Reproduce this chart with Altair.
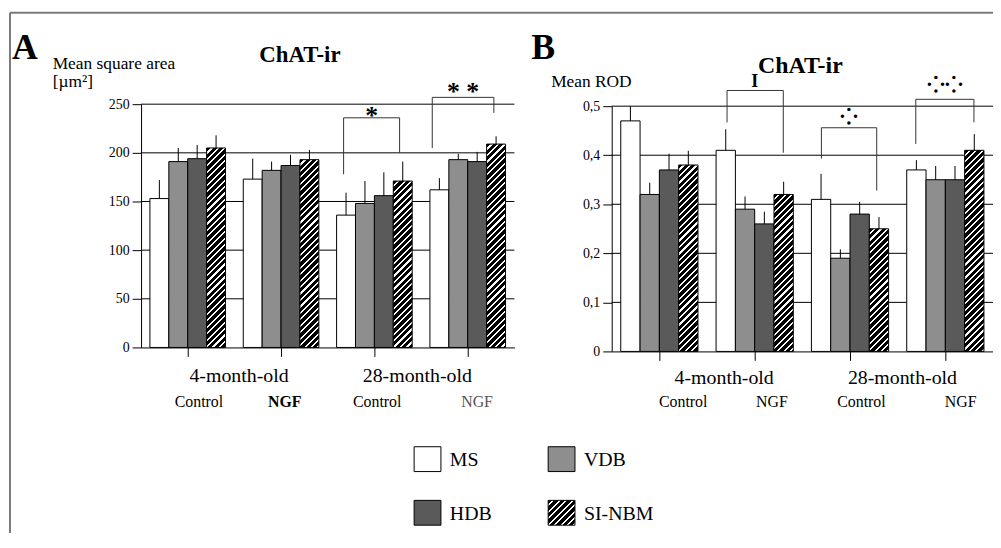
import altair as alt

# ---------------- data ----------------
groups = ["4-month-old Control", "4-month-old NGF", "28-month-old Control", "28-month-old NGF"]
series = ["MS", "VDB", "HDB", "SI-NBM"]

# Panel A : mean square area [µm²]
a_ms = [153, 173, 136, 162]
a_vdb = [191, 182, 148, 193]
a_hdb = [194, 187, 156, 191]
a_si = [205, 193, 171, 209]
a_ms_top = [172, 194, 159, 174]
a_vdb_top = [205, 191, 171, 199]
a_hdb_top = [208, 198, 180, 201]
a_si_top = [218, 203, 191, 217]

# Panel B : mean ROD
b_ms = [0.47, 0.41, 0.31, 0.37]
b_vdb = [0.32, 0.29, 0.19, 0.35]
b_hdb = [0.37, 0.26, 0.28, 0.35]
b_si = [0.38, 0.32, 0.25, 0.41]
b_ms_top = [0.500, 0.453, 0.362, 0.390]
b_vdb_top = [0.344, 0.316, 0.208, 0.378]
b_hdb_top = [0.403, 0.285, 0.305, 0.378]
b_si_top = [0.409, 0.346, 0.274, 0.443]

a_ticks = [0, 50, 100, 150, 200, 250]
b_ticks = [0, 0.1, 0.2, 0.3, 0.4, 0.5]

# significance brackets: left x, left foot, right x, right foot, top
a_brackets = [(2.17, 178, 2.77, 200, 236), (3.12, 205, 3.78, 241, 257)]
b_brackets = [(1.21, 0.467, 1.80, 0.405, 0.532),
              (2.20, 0.393, 2.78, 0.328, 0.456),
              (3.19, 0.423, 3.80, 0.467, 0.514)]
# symbol, x, y, font size
a_marks = [("*", 2.47, 238, 26), ("* *", 3.45, 262, 26)]
b_marks = [("I", 1.50, 0.550, 18), ("⁘", 2.49, 0.478, 22), ("⁘⁘", 3.50, 0.543, 22)]

ages = ["4-month-old", "28-month-old"]
conds = ["Control", "NGF", "Control", "NGF"]

# ---------------- layout / style ----------------
W, H = 992, 525
SERIF = "'Liberation Serif', 'Times New Roman', Tinos, 'DejaVu Serif', serif"
PAD, BW = 0.095, 0.2025
A_XR, A_YR, A_DOM = [134, 510], [340, 95], [0, 250]
B_XR, B_YR, B_DOM = [608, 992], [344, 97], [0, 0.5]
solid = {"MS": "#ffffff", "VDB": "#8e8e8e", "HDB": "#5a5a5a"}


def stripes(w, h, period=6.5, line=2.2):
    L = w + h
    k = L / (w * w + h * h)
    stops = []
    i = 0
    while i * period < L:
        a = i * period / L
        b = min((i * period + period - line) / L, 1)
        c = min((i + 1) * period / L, 1)
        stops += [{"offset": min(a, 1), "color": "black"}, {"offset": b, "color": "black"},
                  {"offset": b, "color": "white"}, {"offset": c, "color": "white"}]
        i += 1
    return {"gradient": "linear", "x1": 0, "y1": 0, "x2": k * w, "y2": k * h, "stops": stops}


def panel(vals, tops, dom, xr, yr, ticks, label_expr, brackets, marks,
          age_pos, cond_pos, cond_style, grid_vals):
    ux = (xr[1] - xr[0]) / 4.0
    uy = (yr[0] - yr[1]) / (dom[1] - dom[0])
    xs = alt.Scale(domain=[0, 4], range=xr, nice=False, zero=False)
    ys = alt.Scale(domain=dom, range=yr, nice=False, zero=False)
    xax = alt.Axis(orient="bottom", offset=yr[0] - H, values=[0.5, 1.5, 2.5, 3.5],
                   labels=False, tickSize=9, grid=False, title=None,
                   domainColor="black", tickColor="black")
    yax = alt.Axis(orient="left", offset=-xr[0], values=ticks, labelExpr=label_expr,
                   tickSize=9, grid=False, title=None, labelFont=SERIF, labelFontSize=14,
                   labelColor="black", labelPadding=3, domainColor="black", tickColor="black")
    X = lambda f: alt.X(f, scale=xs, axis=xax)
    Y = lambda f: alt.Y(f, scale=ys, axis=yax)

    grid = alt.Chart(alt.Data(values=[{"v": g, "a": 0, "b": 4} for g in grid_vals])).mark_rule(
        color="black", strokeWidth=1).encode(x=X("a:Q"), x2="b:Q", y=Y("v:Q"))

    bars, errs = [], []
    for k, s in enumerate(series):
        for g in range(4):
            x0 = g + PAD + k * BW
            v = vals[k][g]
            fill = stripes(BW * ux, v * uy) if s == "SI-NBM" else solid[s]
            bars.append({"x0": x0, "x1": x0 + BW, "v": v, "z": 0, "f": fill})
            errs.append({"xc": x0 + BW / 2, "v": v, "t": tops[k][g]})
    barl = alt.Chart(alt.Data(values=bars)).mark_rect(stroke="black", strokeWidth=1).encode(
        x=X("x0:Q"), x2="x1:Q", y=Y("v:Q"), y2="z:Q", fill=alt.Fill("f:N", scale=None))
    errl = alt.Chart(alt.Data(values=errs)).mark_rule(color="black", strokeWidth=1).encode(
        x=X("xc:Q"), y=Y("v:Q"), y2="t:Q")

    pts = []
    for i, (lx, lf, rx, rf, top) in enumerate(brackets):
        for o, (px, py) in enumerate([(lx, lf), (lx, top), (rx, top), (rx, rf)]):
            pts.append({"id": i, "o": o, "x": px, "y": py})
    brl = alt.Chart(alt.Data(values=pts)).mark_line(color="#333333", strokeWidth=1).encode(
        x=X("x:Q"), y=Y("y:Q"), detail="id:N", order="o:Q")

    sym = alt.Chart(alt.Data(values=[{"t": t, "x": x, "y": y, "s": s} for t, x, y, s in marks])).mark_text(
        font=SERIF, fontWeight="bold", baseline="middle").encode(
        x=X("x:Q"), y=Y("y:Q"), text="t:N", size=alt.Size("s:Q", scale=None))

    agel = alt.Chart(alt.Data(values=[{"t": t, "x": x, "y": age_pos[1]} for t, x in zip(ages, age_pos[0])])).mark_text(
        font=SERIF, fontSize=20, baseline="middle", color="black").encode(
        x=X("x:Q"), y=Y("y:Q"), text="t:N")
    crecs = [{"t": t, "x": x, "y": cond_pos[1], "c": c[0], "w": c[1]}
             for t, x, c in zip(conds, cond_pos[0], cond_style)]
    cl_reg = alt.Chart(alt.Data(values=[r for r in crecs if r["w"] == "normal"])).mark_text(
        font=SERIF, fontSize=16, baseline="middle").encode(
        x=X("x:Q"), y=Y("y:Q"), text="t:N", color=alt.Color("c:N", scale=None))
    layers = [grid, barl, errl, brl, sym, agel, cl_reg]
    bold = [r for r in crecs if r["w"] == "bold"]
    if bold:
        layers.append(alt.Chart(alt.Data(values=bold)).mark_text(
            font=SERIF, fontSize=16, fontWeight="bold", baseline="middle").encode(
            x=X("x:Q"), y=Y("y:Q"), text="t:N", color=alt.Color("c:N", scale=None)))
    return alt.layer(*layers)


panelA = panel([a_ms, a_vdb, a_hdb, a_si], [a_ms_top, a_vdb_top, a_hdb_top, a_si_top],
               A_DOM, A_XR, A_YR, a_ticks, "format(datum.value, 'd')", a_brackets, a_marks,
               ([1.05, 2.96], -29.6), ([0.62, 1.54, 2.53, 3.6], -56),
               [("black", "normal"), ("black", "bold"), ("black", "normal"), ("#555555", "normal")],
               [50, 100, 150, 200, 250])
panelB = panel([b_ms, b_vdb, b_hdb, b_si], [b_ms_top, b_vdb_top, b_hdb_top, b_si_top],
               B_DOM, B_XR, B_YR, b_ticks,
               "datum.value == 0 ? '0' : replace(format(datum.value, '.1f'), '.', ',')",
               b_brackets, b_marks,
               ([1.18, 3.05], -0.055), ([0.75, 1.68, 2.62, 3.66], -0.103),
               [("black", "normal")] * 4,
               [0.1, 0.2, 0.3, 0.4, 0.5])

# ---------------- annotations (pixel positions) ----------------
PX = lambda f: alt.X(f, scale=None, axis=None)
PY = lambda f: alt.Y(f, scale=None, axis=None)

letters = alt.Chart(alt.Data(values=[{"t": "A", "x": 4, "y": 49}, {"t": "B", "x": 527, "y": 50}])).mark_text(
    font=SERIF, fontSize=36, fontWeight="bold", align="left", baseline="alphabetic").encode(
    x=PX("x:Q"), y=PY("y:Q"), text="t:N")
titles = alt.Chart(alt.Data(values=[{"t": "ChAT-ir", "x": 294, "y": 53, "s": 23},
                                    {"t": "ChAT-ir", "x": 798, "y": 64, "s": 24}])).mark_text(
    font=SERIF, fontWeight="bold", align="center", baseline="alphabetic").encode(
    x=PX("x:Q"), y=PY("y:Q"), text="t:N", size=alt.Size("s:Q", scale=None))
ylabels = alt.Chart(alt.Data(values=[{"t": "Mean square area", "x": 45, "y": 60},
                                     {"t": "[µm²]", "x": 45, "y": 78},
                                     {"t": "Mean ROD", "x": 547, "y": 78}])).mark_text(
    font=SERIF, fontSize=17.5, align="left", baseline="alphabetic").encode(
    x=PX("x:Q"), y=PY("y:Q"), text="t:N")

legend_items = [("MS", 409, 440), ("VDB", 544, 440), ("HDB", 409, 494), ("SI-NBM", 544, 494)]
SW, SH = 27, 25
sw_recs = [{"x": x, "x2": x + SW, "y": y, "y2": y + SH,
            "f": stripes(SW, SH) if n == "SI-NBM" else solid[n]} for n, x, y in legend_items]
swatches = alt.Chart(alt.Data(values=sw_recs)).mark_rect(stroke="black", strokeWidth=1).encode(
    x=PX("x:Q"), x2="x2:Q", y=PY("y:Q"), y2="y2:Q", fill=alt.Fill("f:N", scale=None))
leg_text = alt.Chart(alt.Data(values=[{"t": n, "x": x + SW + 9, "y": y + SH / 2 + 7}
                                      for n, x, y in legend_items])).mark_text(
    font=SERIF, fontSize=20, align="left", baseline="alphabetic").encode(
    x=PX("x:Q"), y=PY("y:Q"), text="t:N")

frame_top = alt.Chart(alt.Data(values=[{}])).mark_rule(color="#7a7a7a", strokeWidth=2).encode(
    x=alt.value(2), x2=alt.value(W), y=alt.value(3))
frame_left = alt.Chart(alt.Data(values=[{}])).mark_rule(color="#7a7a7a", strokeWidth=2).encode(
    x=alt.value(2), y=alt.value(3), y2=alt.value(H + 10))

annot = alt.layer(frame_top, frame_left, letters, titles, ylabels, swatches, leg_text)

chart = alt.layer(panelA, panelB, annot).resolve_scale(
    x="independent", y="independent").properties(
    width=W, height=H, padding=0, autosize=alt.AutoSizeParams(type="none"),
    background="white").configure_view(stroke=None).configure_text(font=SERIF).configure_axis(
    labelFont=SERIF)

chart.save("out.html", embed_options={"renderer": "svg", "actions": False})
